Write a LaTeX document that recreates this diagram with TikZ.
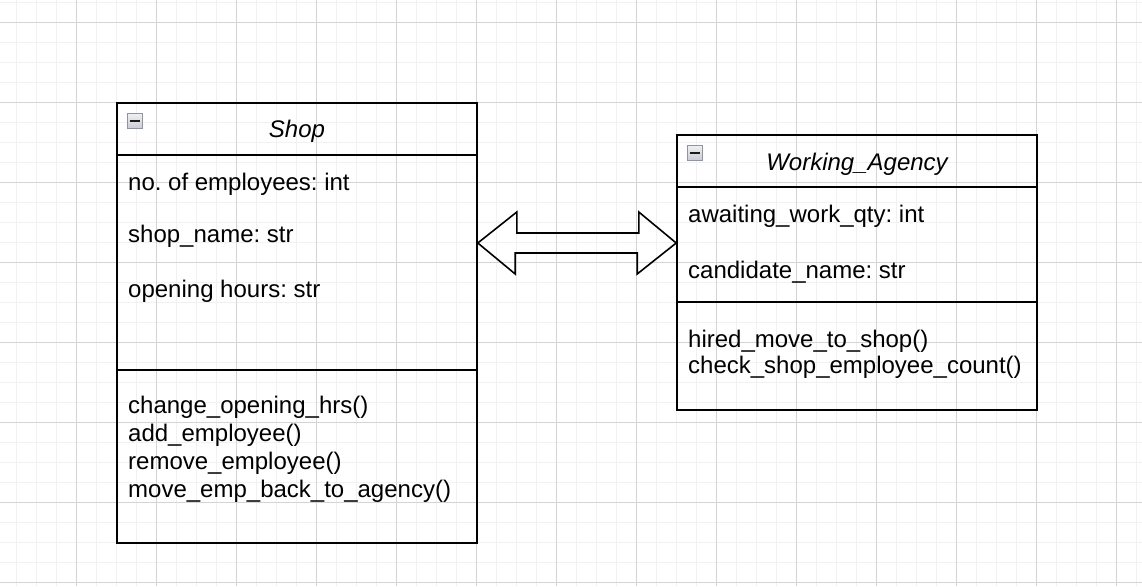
\documentclass[tikz,border=0pt]{standalone}
\usepackage{fontspec}
\setmainfont{Liberation Sans}
\frenchspacing
\definecolor{gridMinor}{HTML}{F1F1F1}
\definecolor{gridMajor}{HTML}{D4D4D4}
\definecolor{iconEdge}{HTML}{8E95A2}
\definecolor{iconTop}{HTML}{F2F2F4}
\definecolor{iconBottom}{HTML}{C9CCD3}
\definecolor{iconBar}{HTML}{1A1A1A}

\begin{document}
\begin{tikzpicture}[x=1pt,y=-1pt]
\tikzstyle{head}=[rectangle,draw,line width=1.6pt,minimum width=360pt,minimum height=52pt,inner sep=0pt]
\tikzstyle{part}=[rectangle,draw,line width=1.6pt,minimum width=360pt,inner sep=0pt]
\tikzstyle{title}=[anchor=base,inner sep=0pt,font=\fontsize{24}{28}\selectfont\itshape]
\tikzstyle{item}=[anchor=base west,inner sep=0pt,font=\fontsize{24}{28}\selectfont]
\tikzstyle{icon}=[rectangle,draw=iconEdge,line width=1pt,top color=iconTop,bottom color=iconBottom,minimum size=15pt,inner sep=0pt]

\useasboundingbox (0,0) rectangle (1142,586);

% grid
\foreach \gx in {16.7,36.7,...,1142} \draw[gridMinor,line width=1pt] (\gx,0) -- (\gx,586);
\foreach \gy in {2.7,22.7,...,586} \draw[gridMinor,line width=1pt] (0,\gy) -- (1142,\gy);
\foreach \gx in {76.7,156.7,...,1142} \draw[gridMajor,line width=1pt] (\gx,0) -- (\gx,586);
\foreach \gy in {22.7,102.7,...,586} \draw[gridMajor,line width=1pt] (0,\gy) -- (1142,\gy);

% Shop
\node[head] (shopHead) at (297,129) {};
\node[part,minimum height=215pt] (shopAttr) at (297,262.5) {};
\node[part,minimum height=173pt] (shopOps) at (297,456.5) {};
\node[icon] (shopIcon) at (134.5,120.5) {};
\draw[iconBar,line width=2pt] (shopIcon.center) ++(-5,0) -- ++(10,0);
\node[title] (shopTitle) at (297,137.3) {Shop};

\node[item] (numEmp)   at (128,190.5) {no. of employees: int};
\node[item] (shopName) at (128,242.2) {shop\_name: str};
\node[item] (openHrs)  at (128,297.2) {opening hours: str};

\node[item] (chgHrs)  at (128,413.8) {change\_opening\_hrs()};
\node[item] (addEmp)  at (128,441.6) {add\_employee()};
\node[item] (remEmp)  at (128,469.4) {remove\_employee()};
\node[item] (moveEmp) at (128,497.2) {move\_emp\_back\_to\_agency()};

% Working_Agency
\node[head] (agencyHead) at (857,161) {};
\node[part,minimum height=115pt] (agencyAttr) at (857,244.5) {};
\node[part,minimum height=108pt] (agencyOps) at (857,356) {};
\node[icon] (agencyIcon) at (694.5,152.5) {};
\draw[iconBar,line width=2pt] (agencyIcon.center) ++(-5,0) -- ++(10,0);
\node[title] (agencyTitle) at (857,170) {Working\_Agency};

\node[item] (awaitQty) at (688,222.2) {awaiting\_work\_qty: int};
\node[item] (candName) at (688,278.2) {candidate\_name: str};

\node[item] (hireMove)  at (688,347.2) {hired\_move\_to\_shop()};
\node[item] (checkCnt)  at (688,373.8) {check\_shop\_employee\_count()};

% double block arrow
\coordinate (tipL) at (shopAttr.east |- 0,243);
\coordinate (tipR) at (agencyAttr.west |- 0,243);
\draw[line width=1.6pt,line join=miter] (tipL) -- ++(39,-31) -- ++(0,21) -- ++(122,0) -- ++(0,-21) -- (tipR)
  -- ++(-39,31) -- ++(0,-21) -- ++(-122,0) -- ++(0,21) -- cycle;

\end{tikzpicture}
\end{document}
